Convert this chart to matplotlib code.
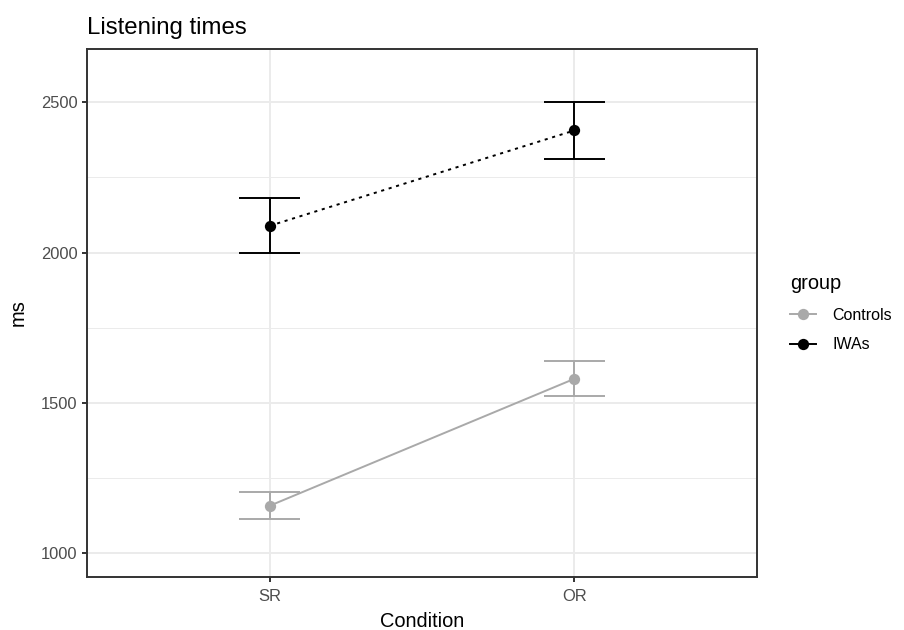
import matplotlib
matplotlib.use("Agg")
import matplotlib.pyplot as plt
from matplotlib.lines import Line2D

plt.rcParams['font.family'] = ['Liberation Sans', 'DejaVu Sans']

# data
conditions = ["SR", "OR"]
groups = ["Controls", "IWAs"]
means = {"Controls": [1158, 1580], "IWAs": [2089, 2406]}
lower = {"Controls": [1113, 1522], "IWAs": [1998, 2312]}
upper = {"Controls": [1205, 1638], "IWAs": [2181, 2501]}
y_ticks = [1000, 1500, 2000, 2500]
y_minor = [1250, 1750, 2250]

colors = {"Controls": "#A9A9A9", "IWAs": "#000000"}
styles = {"Controls": "-", "IWAs": (0, (1.6, 2.4))}

DPI = 131
W, H = 904, 630
fig = plt.figure(figsize=(W / DPI, H / DPI), dpi=DPI)

# panel position in pixels
left, right, top, bottom = 87, 757, 49, 577
ax = fig.add_axes((left / W, 1 - bottom / H, (right - left) / W, (bottom - top) / H))

lw = 1.07
x = list(range(1, len(conditions) + 1))

for yv in y_minor:
    ax.axhline(yv, color="#EBEBEB", lw=lw * 0.5, zorder=0)
for yv in y_ticks:
    ax.axhline(yv, color="#EBEBEB", lw=lw, zorder=0)
for xv in x:
    ax.axvline(xv, color="#EBEBEB", lw=lw, zorder=0)

for g in groups:
    c = colors[g]
    for xi, lo, hi in zip(x, lower[g], upper[g]):
        ax.plot([xi, xi], [lo, hi], color=c, lw=lw, zorder=2, solid_capstyle="butt")
        ax.plot([xi - 0.1, xi + 0.1], [lo, lo], color=c, lw=lw, zorder=2, solid_capstyle="butt")
        ax.plot([xi - 0.1, xi + 0.1], [hi, hi], color=c, lw=lw, zorder=2, solid_capstyle="butt")
    ax.plot(x, means[g], color=c, lw=lw, linestyle=styles[g], zorder=3)
    ax.plot(x, means[g], "o", color=c, markersize=6.2, markeredgewidth=0, zorder=4)

ax.set_xlim(0.4, 2.6)
ax.set_ylim(921, 2677)
ax.set_xticks(x)
ax.set_xticklabels(conditions)
ax.set_yticks(y_ticks)
ax.tick_params(axis="both", length=2.75, width=lw, color="#333333",
               labelcolor="#4D4D4D", labelsize=9.1, pad=2.5)
ax.tick_params(axis="x", pad=4)
for s in ax.spines.values():
    s.set_color("#333333")
    s.set_linewidth(lw)

ax.set_xlabel("Condition", fontsize=11, labelpad=4)
ax.set_ylabel("ms", fontsize=11, labelpad=7)
fig.text(left / W, 1 - 28 / H, "Listening times", fontsize=13.2, ha="left", va="center")

handles = [Line2D([0], [0], color=colors[g], lw=lw, marker="o", markersize=6.2,
                  markeredgewidth=0) for g in groups]
leg = fig.legend(handles, groups, title="group", loc="upper left",
                 bbox_to_anchor=(784 / W, 1 - 268 / H), frameon=False,
                 fontsize=8.8, title_fontsize=11, handlelength=1.6,
                 labelspacing=0.9, handletextpad=1.0, borderaxespad=0)
leg._legend_box.align = "left"

fig.savefig("out.png", dpi=DPI)
